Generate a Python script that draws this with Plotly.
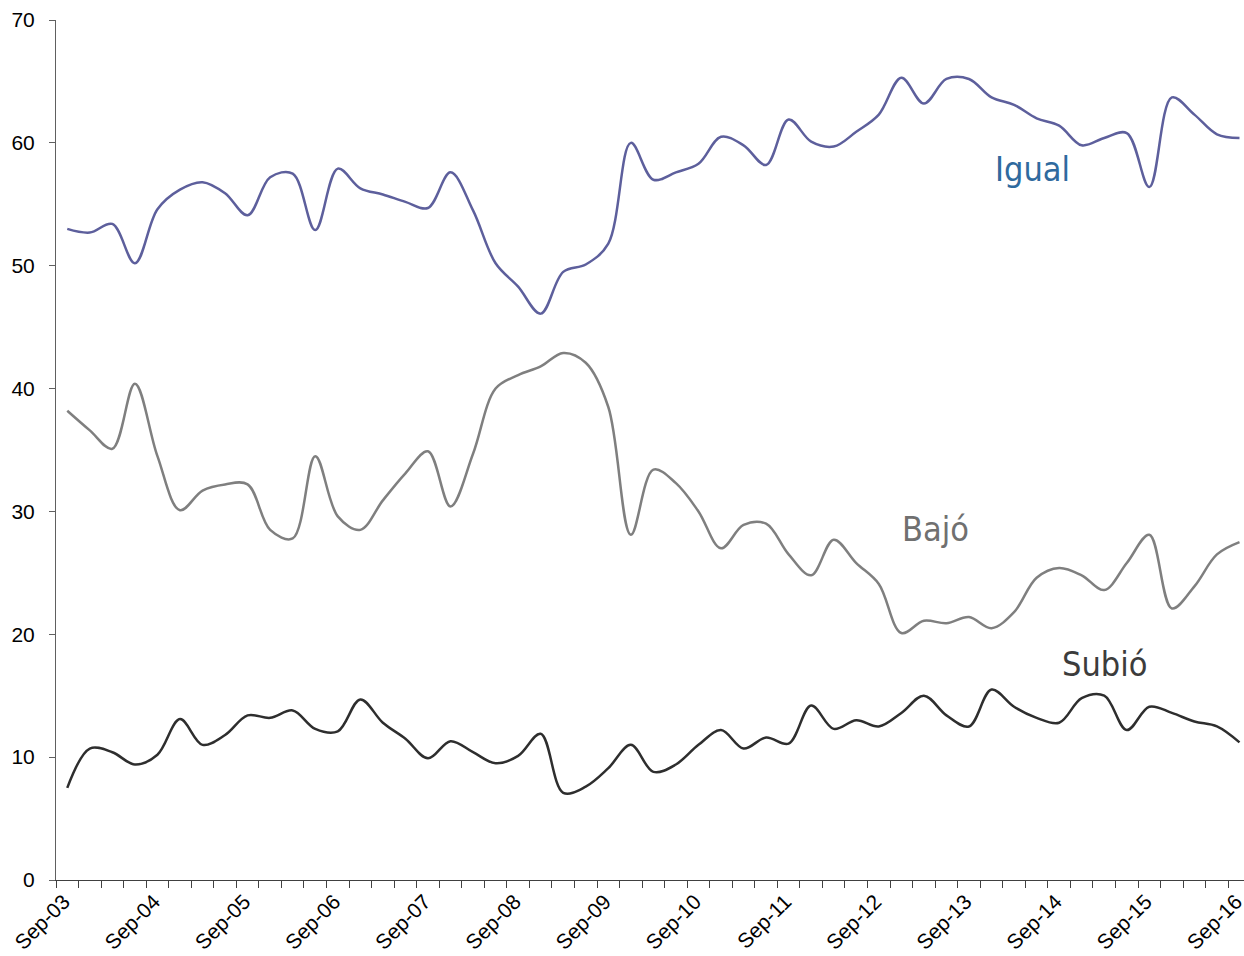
import plotly.graph_objects as go

# quarterly observations, Sep-03 .. Sep-16
quarters = [f"{m}-{y:02d}" for y in range(3, 17) for m in ("Mar", "Jun", "Sep", "Dec")][2:-1]

igual = [53.0, 52.7, 53.4, 50.2, 54.6, 56.2, 56.8, 55.9, 54.1, 57.2, 57.5, 52.9, 57.9,
         56.3, 55.8, 55.2, 54.7, 57.6, 54.5, 50.2, 48.3, 46.1, 49.5, 50.1, 51.8, 60.0,
         57.0, 57.6, 58.3, 60.5, 59.8, 58.2, 61.9, 60.1, 59.7, 60.9, 62.3, 65.3, 63.2,
         65.2, 65.2, 63.7, 63.1, 62.0, 61.4, 59.8, 60.4, 60.8, 56.4, 63.7, 62.3, 60.7, 60.4]
bajo = [38.2, 36.6, 35.1, 40.4, 34.5, 30.1, 31.7, 32.2, 32.2, 28.5, 27.8, 34.5, 29.6,
        28.5, 30.9, 33.1, 34.9, 30.4, 34.7, 40.0, 41.1, 41.8, 42.9, 42.1, 38.5, 28.1,
        33.4, 32.3, 30.0, 27.0, 28.9, 29.0, 26.5, 24.8, 27.7, 25.8, 24.1, 20.1, 21.1,
        20.9, 21.4, 20.5, 21.8, 24.6, 25.4, 24.8, 23.6, 25.8, 28.1, 22.1, 23.9, 26.5, 27.5]
subio = [7.5, 10.7, 10.4, 9.4, 10.2, 13.1, 11.0, 11.8, 13.4, 13.2, 13.8, 12.3, 12.1,
         14.7, 12.8, 11.5, 9.9, 11.3, 10.4, 9.5, 10.1, 11.9, 7.1, 7.6, 9.1, 11.0,
         8.8, 9.4, 11.0, 12.2, 10.7, 11.6, 11.1, 14.2, 12.3, 13.0, 12.5, 13.6, 15.0,
         13.4, 12.5, 15.5, 14.1, 13.2, 12.8, 14.8, 15.0, 12.2, 14.1, 13.6, 12.9, 12.5, 11.2]

series = [
    ("Igual", igual, "#5d5f9c"),
    ("Bajó", bajo, "#7f7f7f"),
    ("Subió", subio, "#2e2e2e"),
]
# label text, category position, value position, colour
labels = [
    ("Igual", 42.8, 57.9, "#2f6a9e"),
    ("Bajó", 38.5, 28.6, "#707070"),
    ("Subió", 46.0, 17.6, "#3c3c3c"),
]

idx = list(range(len(quarters)))
tick_idx = [i for i in idx if quarters[i].startswith("Sep")]

fig = go.Figure()
for name, values, color in series:
    fig.add_trace(go.Scatter(
        x=idx, y=values, name=name, mode="lines",
        line=dict(color=color, width=2.5, shape="spline", smoothing=1),
        hovertext=quarters, showlegend=False,
    ))

for text, xc, yv, color in labels:
    fig.add_annotation(
        x=xc, y=yv, text=text, showarrow=False,
        font=dict(family="DejaVu Sans Condensed, Liberation Sans Narrow, Liberation Sans", size=34, color=color),
        xanchor="center", yanchor="middle",
    )

fig.update_layout(
    width=1244, height=956,
    margin=dict(l=56, r=0, t=20, b=76),
    paper_bgcolor="white", plot_bgcolor="white",
    font=dict(family="Liberation Sans, Arial, sans-serif", size=21, color="black"),
)
# rotated labels end a little right of their anchor, so nudge them left
fig.update_xaxes(
    range=[-0.5, 52.2], automargin=False, ticklabeloverflow="allow",
    tickmode="array", tickvals=[i - 0.15 for i in tick_idx],
    ticktext=[quarters[i] for i in tick_idx],
    tickangle=-45, ticks="", showgrid=False, zeroline=False,
    showline=True, linecolor="#404040", linewidth=1,
    minor=dict(ticks="outside", tickmode="linear", tick0=-0.5, dtick=1,
               ticklen=7, tickcolor="#404040", tickwidth=1, showgrid=False),
)
fig.update_yaxes(
    range=[0, 70], automargin=False, tickmode="linear", tick0=0, dtick=10,
    ticks="outside", ticklen=6, tickcolor="#606060", ticklabelstandoff=10,
    showgrid=False, zeroline=False,
    showline=True, linecolor="#606060", linewidth=1,
)

# drop the default body margin so the figure fills the window exactly
fig.write_html(
    "out.html",
    config={"displayModeBar": False},
    post_script="document.body.style.margin='0';document.body.style.overflow='hidden';",
)
